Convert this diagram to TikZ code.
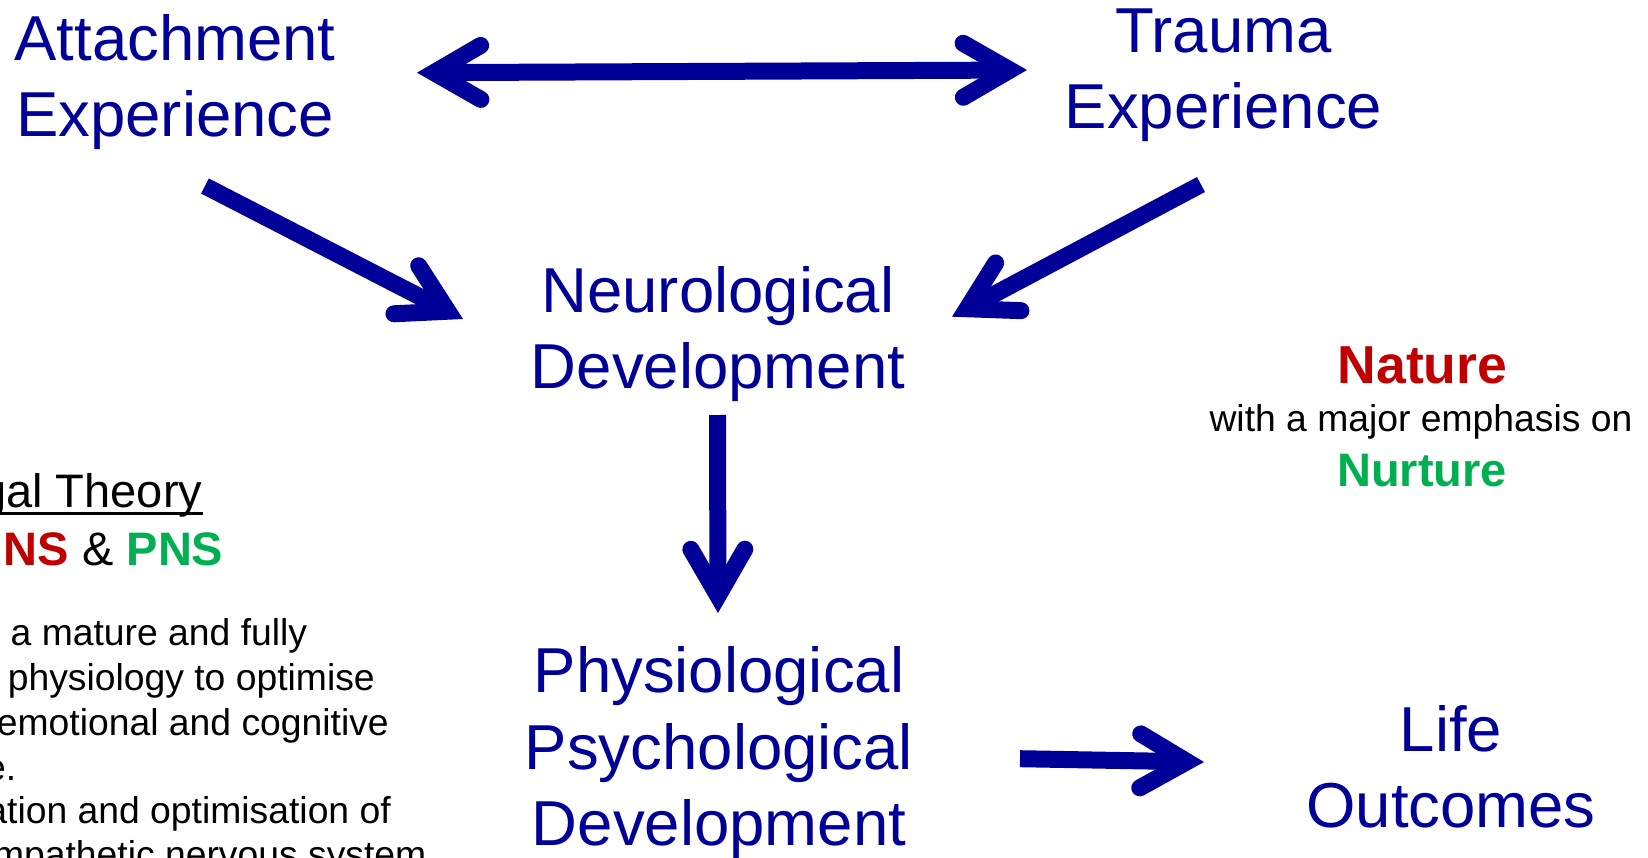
\documentclass[tikz,border=0pt]{standalone}
\usepackage{fontspec}
\setmainfont{Liberation Sans}
\usetikzlibrary{calc}
\definecolor{dblue}{RGB}{0,0,153}
\definecolor{nred}{RGB}{192,0,0}
\definecolor{ngreen}{RGB}{0,176,80}
\newcommand\twoline[1]{\begin{tabular}[t]{@{}c@{}}#1\end{tabular}}
\tikzset{
  mainlabel/.style={text=dblue, inner sep=0pt, anchor=base,
    font=\fontsize{63.5bp}{76.5bp}\selectfont},
  bodytext/.style={text=black, inner sep=0pt,
    font=\fontsize{37.3bp}{44.5bp}\selectfont},
  shaftline/.style={draw=dblue, line width=17bp, line cap=butt},
  headline/.style={draw=dblue, line width=17bp, line cap=round,
    line join=miter, miter limit=10},
}
% head at tip #2, coming from #1
\newcommand\chevhead[2]{%
  \coordinate (hv) at ($(#2)!17bp!(#1)$);
  \draw[headline] ($(hv)!54bp!30:(#1)$) -- (hv) -- ($(hv)!54bp!-30:(#1)$);}
\newcommand\bigarrow[2]{%
  \draw[shaftline] (#1) -- ($(#2)!17bp!(#1)$);
  \chevhead{#1}{#2}}
\begin{document}
\begin{tikzpicture}[x=1bp, y=-1bp]
\useasboundingbox (0,0) rectangle (1648,857);
\clip (0,0) rectangle (1648,857);

% main labels
\node[mainlabel] (att) at (175,60) {\twoline{Attachment\\Experience}};
\node[mainlabel] (trauma) at (1223.5,52) {\twoline{Trauma\\Experience}};
\node[mainlabel] (neuro) at (718,312) {\twoline{Neurological\\Development}};
\node[mainlabel] (physio) at (719,692.7) {\twoline{Physiological\\Psychological\\Development}};
\node[mainlabel] (life) at (1451,751) {\twoline{Life\\Outcomes}};

% nature / nurture
\node[inner sep=0pt, anchor=base, text=nred,
  font=\bfseries\fontsize{53.5bp}{60bp}\selectfont] (nature) at (1422.5,383.3) {Nature};
\node[bodytext, anchor=base] (emph) at (1421,431.7) {with a major emphasis on};
\node[inner sep=0pt, anchor=base, text=ngreen,
  font=\bfseries\fontsize{47bp}{54bp}\selectfont] (nurture) at (1422,486.7) {Nurture};

% left column
\node[inner sep=0pt, anchor=base east,
  font=\fontsize{47bp}{56bp}\selectfont] (theory) at (202.5,507.5) {gal Theory};
\draw[line width=3bp] ([yshift=-5.5bp]theory.base west) -- ([yshift=-5.5bp]theory.base east);
\node[inner sep=0pt, anchor=base east,
  font=\fontsize{47bp}{56bp}\selectfont] (sns) at (223.5,565)
  {\textcolor{nred}{\bfseries NS} \& \textcolor{ngreen}{\bfseries PNS}};
\node[bodytext, anchor=base west] (b1) at (10.5,645) {a mature and fully};
\node[bodytext, anchor=base west] (b2) at (7.6,690) {physiology to optimise};
\node[bodytext, anchor=base east] (b3) at (389,735) {emotional and cognitive};
\node[bodytext, anchor=base east] (b4) at (16.5,780) {e.};
\node[bodytext, anchor=base east] (b5) at (391,823) {ation and optimisation of};
\node[bodytext, anchor=base east] (b6) at (426.5,867) {mpathetic nervous system};

% connector end points
\coordinate (dblL) at (417,72.7);
\coordinate (dblR) at (1027,70);
\coordinate (attOut) at (205,186);
\coordinate (neuroInL) at (463,319);
\coordinate (traumaOut) at (1201,184.5);
\coordinate (neuroInR) at (952,316.7);
\coordinate (neuroOut) at (717.5,415);
\coordinate (physioIn) at (718,613);
\coordinate (physioOut) at (1020,758.7);
\coordinate (lifeIn) at (1204,762);

% double arrow
\draw[shaftline] ($(dblL)!17bp!(dblR)$) -- ($(dblR)!17bp!(dblL)$);
\chevhead{dblR}{dblL}
\chevhead{dblL}{dblR}

% single arrows
\bigarrow{attOut}{neuroInL}
\bigarrow{traumaOut}{neuroInR}
\bigarrow{neuroOut}{physioIn}
\bigarrow{physioOut}{lifeIn}
\end{tikzpicture}
\end{document}
